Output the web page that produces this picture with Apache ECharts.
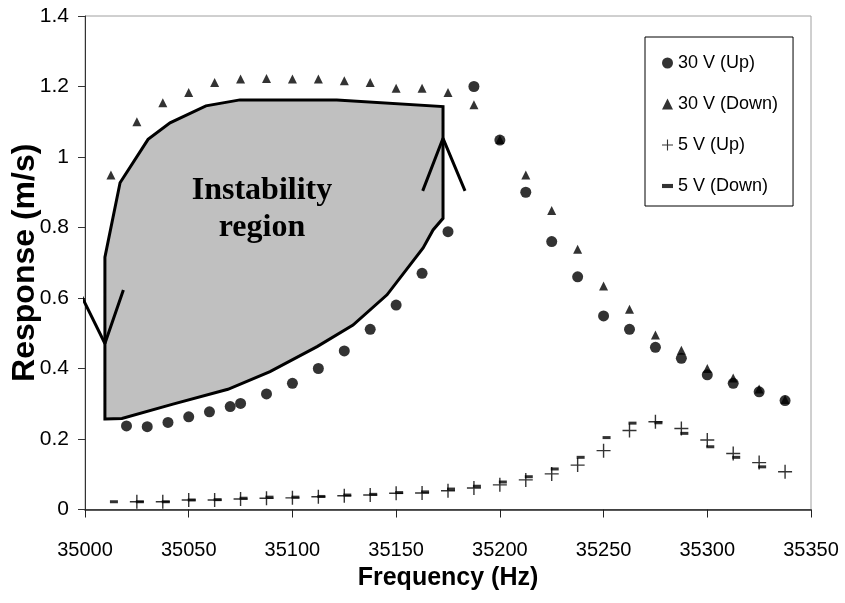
<!DOCTYPE html>
<html>
<head>
<meta charset="utf-8">
<script src="https://cdn.jsdelivr.net/npm/echarts@6/dist/echarts.min.js"></script>
<style>
  html, body { margin: 0; padding: 0; background: #fff; }
  #chart { width: 845px; height: 603px; }
</style>
</head>
<body>
<div id="chart"></div>
<script>
// Frequency sweep response of the resonator, 30 V and 5 V drive, up and down sweeps
const up30Freq = [35020, 35030, 35040, 35050, 35060, 35070, 35075, 35087.5, 35100, 35112.5,
  35125, 35137.5, 35150, 35162.5, 35175, 35187.5, 35200, 35212.5, 35225, 35237.5,
  35250, 35262.5, 35275, 35287.5, 35300, 35312.5, 35325, 35337.5];
const up30Resp = [0.237, 0.235, 0.247, 0.263, 0.277, 0.292, 0.301, 0.328, 0.358, 0.400,
  0.450, 0.511, 0.580, 0.670, 0.788, 1.200, 1.048, 0.900, 0.760, 0.660,
  0.549, 0.511, 0.460, 0.429, 0.382, 0.358, 0.334, 0.309];

const down30Freq = [35012.5, 35025, 35037.5, 35050, 35062.5, 35075, 35087.5, 35100, 35112.5,
  35125, 35137.5, 35150, 35162.5, 35175, 35187.5, 35200, 35212.5, 35225, 35237.5,
  35250, 35262.5, 35275, 35287.5, 35300, 35312.5, 35325, 35337.5];
const down30Resp = [0.949, 1.100, 1.154, 1.183, 1.211, 1.221, 1.223, 1.221, 1.221,
  1.216, 1.211, 1.195, 1.195, 1.183, 1.148, 1.050, 0.949, 0.848, 0.738,
  0.634, 0.568, 0.495, 0.452, 0.400, 0.373, 0.342, 0.312];

const up5Freq = [35025, 35037.5, 35050, 35062.5, 35075, 35087.5, 35100, 35112.5, 35125,
  35137.5, 35150, 35162.5, 35175, 35187.5, 35200, 35212.5, 35225, 35237.5, 35250,
  35262.5, 35275, 35287.5, 35300, 35312.5, 35325, 35337.5];
const up5Resp = [0.022, 0.022, 0.027, 0.027, 0.030, 0.032, 0.033, 0.036, 0.039,
  0.041, 0.046, 0.047, 0.053, 0.061, 0.070, 0.084, 0.101, 0.126, 0.167,
  0.224, 0.249, 0.230, 0.197, 0.159, 0.133, 0.107];

const down5Freq = [35012.5, 35025, 35037.5, 35050, 35062.5, 35075, 35087.5, 35100, 35112.5,
  35125, 35137.5, 35150, 35162.5, 35175, 35187.5, 35200, 35212.5, 35225, 35237.5,
  35250, 35262.5, 35275, 35287.5, 35300, 35312.5, 35325];
const down5Resp = [0.022, 0.022, 0.022, 0.027, 0.028, 0.032, 0.035, 0.035, 0.037,
  0.041, 0.043, 0.048, 0.050, 0.058, 0.066, 0.078, 0.093, 0.115, 0.148,
  0.204, 0.245, 0.246, 0.216, 0.178, 0.148, 0.121];

// Outline of the hysteresis (instability) region
const regionFreq = [35009.6, 35017.8, 35042.4, 35068.9, 35089.2, 35111.9, 35129.2, 35145.6,
  35163.0, 35167.8, 35172.6, 35172.6, 35121.4, 35074.7, 35058.3, 35041.0, 35030.4,
  35016.9, 35009.6];
const regionResp = [0.257, 0.258, 0.299, 0.341, 0.391, 0.462, 0.523, 0.609,
  0.742, 0.793, 0.826, 1.143, 1.162, 1.162, 1.145, 1.097, 1.050,
  0.927, 0.716];

// Jump arrows: arm, tip, arm
const jumpUpFreq = [35162.8, 35172.6, 35183.2];
const jumpUpResp = [0.904, 1.053, 0.904];
const jumpDownFreq = [34997.6, 35009.6, 35018.5];
const jumpDownResp = [0.614, 0.471, 0.623];

const seriesNames = ['30 V (Up)', '30 V (Down)', '5 V (Up)', '5 V (Down)'];

const zip = (a, b) => a.map((v, i) => [v, b[i]]);

const PLUS = 'path://M0,6.3H14V7.7H0Z M6.3,0H7.7V14H6.3Z';
const DASH = 'path://M0,0H8V3H0Z';

const chart = echarts.init(document.getElementById('chart'), null, { renderer: 'canvas' });

const axisFont = 'Arial, "Liberation Sans", sans-serif';

const option = {
  animation: false,
  backgroundColor: '#fff',
  grid: {
    left: 85, right: 34, top: 16, bottom: 93.5,
    outerBoundsMode: 'none', containLabel: false,
    show: true, borderColor: '#a0a0a0', borderWidth: 1
  },
  xAxis: {
    type: 'value', min: 35000, max: 35350, interval: 50,
    name: 'Frequency (Hz)', nameLocation: 'middle', nameGap: 56, nameMoveOverlap: false,
    nameTextStyle: { fontSize: 25, fontWeight: 'bold', fontFamily: axisFont, color: '#000' },
    axisLine: { show: true, lineStyle: { color: '#222', width: 1.5 } },
    axisTick: { show: true, inside: false, length: 8, lineStyle: { color: '#222' } },
    axisLabel: { margin: 31, fontSize: 20, fontFamily: axisFont, color: '#000',
      formatter: v => String(v) },
    splitLine: { show: false }
  },
  yAxis: {
    type: 'value', min: 0, max: 1.4, interval: 0.2,
    name: 'Response (m/s)', nameLocation: 'middle', nameGap: 44, nameRotate: 90,
    nameMoveOverlap: false,
    nameTextStyle: { fontSize: 32, fontWeight: 'bold', fontFamily: axisFont, color: '#000' },
    axisLine: { show: true, lineStyle: { color: '#333', width: 1 } },
    axisTick: { show: true, inside: false, length: 7, lineStyle: { color: '#333' } },
    axisLabel: { margin: 16, fontSize: 21, fontFamily: axisFont, color: '#000',
      formatter: v => String(Math.round(v * 10) / 10) },
    splitLine: { show: false }
  },
  legend: {
    data: seriesNames,
    orient: 'vertical',
    left: 645, top: 37,
    itemGap: 23, itemWidth: 11, itemHeight: 11,
    padding: [17, 15, 11, 17],
    borderColor: '#000', borderWidth: 1,
    selectedMode: false,
    textStyle: { fontSize: 18, fontFamily: axisFont, color: '#000' }
  },
  graphic: [{
    type: 'text', x: 262, y: 172, z: 100,
    style: {
      text: 'Instability\nregion',
      font: 'bold 32px "Times New Roman", "Liberation Serif", serif',
      align: 'center', verticalAlign: 'top', lineHeight: 37, fill: '#000'
    }
  }],
  series: [
    {
      // filled instability region
      type: 'custom',
      name: 'region',
      z: 1,
      data: [[regionFreq[0], regionResp[0]]],
      renderItem: (params, api) => {
        const pts = regionFreq.map((f, i) => api.coord([f, regionResp[i]]));
        return {
          type: 'polygon',
          shape: { points: pts },
          style: { fill: '#c0c0c0', stroke: '#000', lineWidth: 3, lineJoin: 'miter' }
        };
      }
    },
    {
      type: 'line', name: 'jumpUp', z: 3, clip: false,
      data: zip(jumpUpFreq, jumpUpResp), showSymbol: false, symbol: 'none',
      lineStyle: { color: '#000', width: 3 }, silent: true
    },
    {
      type: 'line', name: 'jumpDown', z: 3, clip: false,
      data: zip(jumpDownFreq, jumpDownResp), showSymbol: false, symbol: 'none',
      lineStyle: { color: '#000', width: 3 }, silent: true
    },
    {
      type: 'scatter', name: seriesNames[1], z: 4,
      data: zip(down30Freq, down30Resp),
      symbol: 'triangle', symbolSize: 9,
      itemStyle: { color: '#000' }
    },
    {
      type: 'scatter', name: seriesNames[0], z: 5,
      data: zip(up30Freq, up30Resp),
      symbol: 'circle', symbolSize: 11,
      itemStyle: { color: '#000' }
    },
    {
      type: 'scatter', name: seriesNames[2], z: 5,
      data: zip(up5Freq, up5Resp),
      symbol: PLUS, symbolSize: 14,
      itemStyle: { color: '#000' }
    },
    {
      type: 'scatter', name: seriesNames[3], z: 6,
      data: zip(down5Freq, down5Resp),
      symbol: DASH, symbolSize: [8, 3], symbolOffset: [3, 0],
      itemStyle: { color: '#000' }
    }
  ]
};

chart.setOption(option);
</script>
</body>
</html>
